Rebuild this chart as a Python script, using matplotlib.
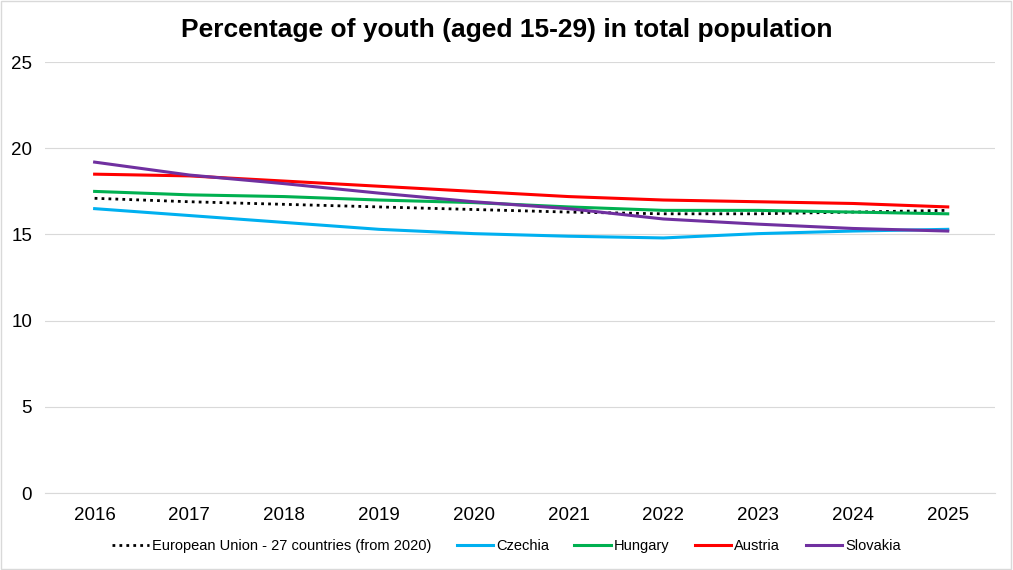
import matplotlib
matplotlib.use("Agg")
import matplotlib.pyplot as plt
from matplotlib.patches import Rectangle

plt.rcParams['font.family'] = ['Liberation Sans', 'DejaVu Sans']

years = [2016, 2017, 2018, 2019, 2020, 2021, 2022, 2023, 2024, 2025]
eu = [17.1, 16.9, 16.75, 16.6, 16.45, 16.3, 16.2, 16.2, 16.3, 16.4]
czechia = [16.5, 16.1, 15.7, 15.3, 15.05, 14.9, 14.8, 15.05, 15.2, 15.3]
hungary = [17.5, 17.3, 17.2, 17.0, 16.85, 16.6, 16.4, 16.4, 16.3, 16.2]
austria = [18.5, 18.4, 18.1, 17.8, 17.5, 17.2, 17.0, 16.9, 16.8, 16.6]
slovakia = [19.2, 18.45, 17.95, 17.4, 16.9, 16.5, 15.9, 15.6, 15.35, 15.2]
yticks = [0, 5, 10, 15, 20, 25]

fig = plt.figure(figsize=(10.13, 5.70), dpi=100)
ax = fig.add_axes([0.044, 0.135, 0.938, 0.756])

ax.plot(years, eu, color='black', lw=2, ls=(0, (1, 1.5)),
        label='European Union - 27 countries (from 2020)')
ax.plot(years, czechia, color='#00B0F0', lw=2.2, label='Czechia')
ax.plot(years, hungary, color='#00B050', lw=2.2, label='Hungary')
ax.plot(years, austria, color='#FF0000', lw=2.2, label='Austria')
ax.plot(years, slovakia, color='#7030A0', lw=2.2, label='Slovakia')

ax.set_xlim(2015.472, 2025.496)
ax.set_ylim(0, 25)
ax.set_yticks(yticks)
ax.set_xticks(years)
ax.grid(axis='y', color='#D9D9D9', lw=0.8)
ax.set_axisbelow(True)
for s in ['top', 'right', 'left']:
    ax.spines[s].set_visible(False)
ax.spines['bottom'].set_color('#D9D9D9')
ax.tick_params(axis='both', length=0, labelsize=13.5, colors='black')
ax.tick_params(axis='x', pad=10)
ax.tick_params(axis='y', pad=9)

fig.text(0.5, 0.947, 'Percentage of youth (aged 15-29) in total population',
         ha='center', va='center', fontsize=19, fontweight='bold')

leg = fig.legend(loc='center', bbox_to_anchor=(0.5, 0.042), ncol=5, frameon=False,
                 fontsize=10.5, handlelength=2.5, columnspacing=1.75, handletextpad=0.2)

fig.patches.append(Rectangle((0.001, 0.001), 0.997, 0.997, transform=fig.transFigure,
                             fill=False, edgecolor='#D9D9D9', lw=1))

fig.savefig('out.png', dpi=100)
